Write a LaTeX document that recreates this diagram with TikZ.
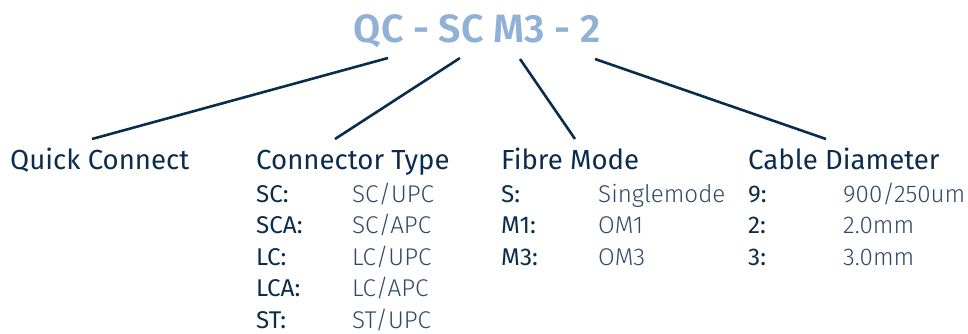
\documentclass[tikz,border=0pt]{standalone}
\usepackage{fontspec}
\setmainfont{Fira Sans}
\newfontfamily\firalight{Fira Sans Light}
\newfontfamily\firasemi{Fira Sans SemiBold}
\definecolor{navy}{HTML}{0B2D4D}
\definecolor{valcol}{HTML}{2F4A66}
\definecolor{titleblue}{HTML}{8FB1D6}
\begin{document}
\begin{tikzpicture}[x=1pt,y=-1pt,
  titletext/.style={font=\firasemi\fontsize{39.5}{39.5}\selectfont, text=titleblue, inner sep=0pt},
  head/.style={anchor=base west, inner sep=0pt, text=navy, font=\fontsize{27.6}{27.6}\selectfont},
  key/.style={anchor=base west, inner sep=0pt, text=navy, font=\fontsize{24.2}{24.2}\selectfont},
  val/.style={anchor=base west, inner sep=0pt, text=valcol, font=\firalight\fontsize{24.2}{24.2}\selectfont},
  link/.style={draw=navy, line width=2.6pt}]
\useasboundingbox (0,0) rectangle (968,333);
\node[titletext, anchor=base] (title) at (477,42) {QC - SC M3 - 2};
\coordinate (t1) at (388,58);
\coordinate (t2) at (460,58);
\coordinate (t3) at (520,59);
\coordinate (t4) at (595,59);
\coordinate (b1) at (92,139);
\coordinate (b2) at (335,139);
\coordinate (b3) at (575,139);
\coordinate (b4) at (826,139);
\draw[link] (t1) -- (b1);
\draw[link] (t2) -- (b2);
\draw[link] (t3) -- (b3);
\draw[link] (t4) -- (b4);
\node[head] (h1) at (10,169) {Quick Connect};
\node[head] (h2) at (256,169) {Connector Type};
\node[head] (h3) at (501,169) {Fibre Mode};
\node[head] (h4) at (748,169) {Cable Diameter};
% Connector type
\node[key] (k21) at (256,202) {SC:};
\node[key] (k22) at (256,233.5) {SCA:};
\node[key] (k23) at (256,265) {LC:};
\node[key] (k24) at (256,296.5) {LCA:};
\node[key] (k25) at (256,328) {ST:};
\node[val] (v21) at (352,202) {SC/UPC};
\node[val] (v22) at (352,233.5) {SC/APC};
\node[val] (v23) at (352,265) {LC/UPC};
\node[val] (v24) at (352,296.5) {LC/APC};
\node[val] (v25) at (352,328) {ST/UPC};
% Fibre mode
\node[key] (k31) at (501,202) {S:};
\node[key] (k32) at (501,233.5) {M1:};
\node[key] (k33) at (501,265) {M3:};
\node[val] (v31) at (598,202) {Singlemode};
\node[val] (v32) at (598,233.5) {OM1};
\node[val] (v33) at (598,265) {OM3};
% Cable diameter
\node[key] (k41) at (748,202) {9:};
\node[key] (k42) at (748,233.5) {2:};
\node[key] (k43) at (748,265) {3:};
\node[val] (v41) at (843,202) {900/250um};
\node[val] (v42) at (843,233.5) {2.0mm};
\node[val] (v43) at (843,265) {3.0mm};
\end{tikzpicture}
\end{document}
